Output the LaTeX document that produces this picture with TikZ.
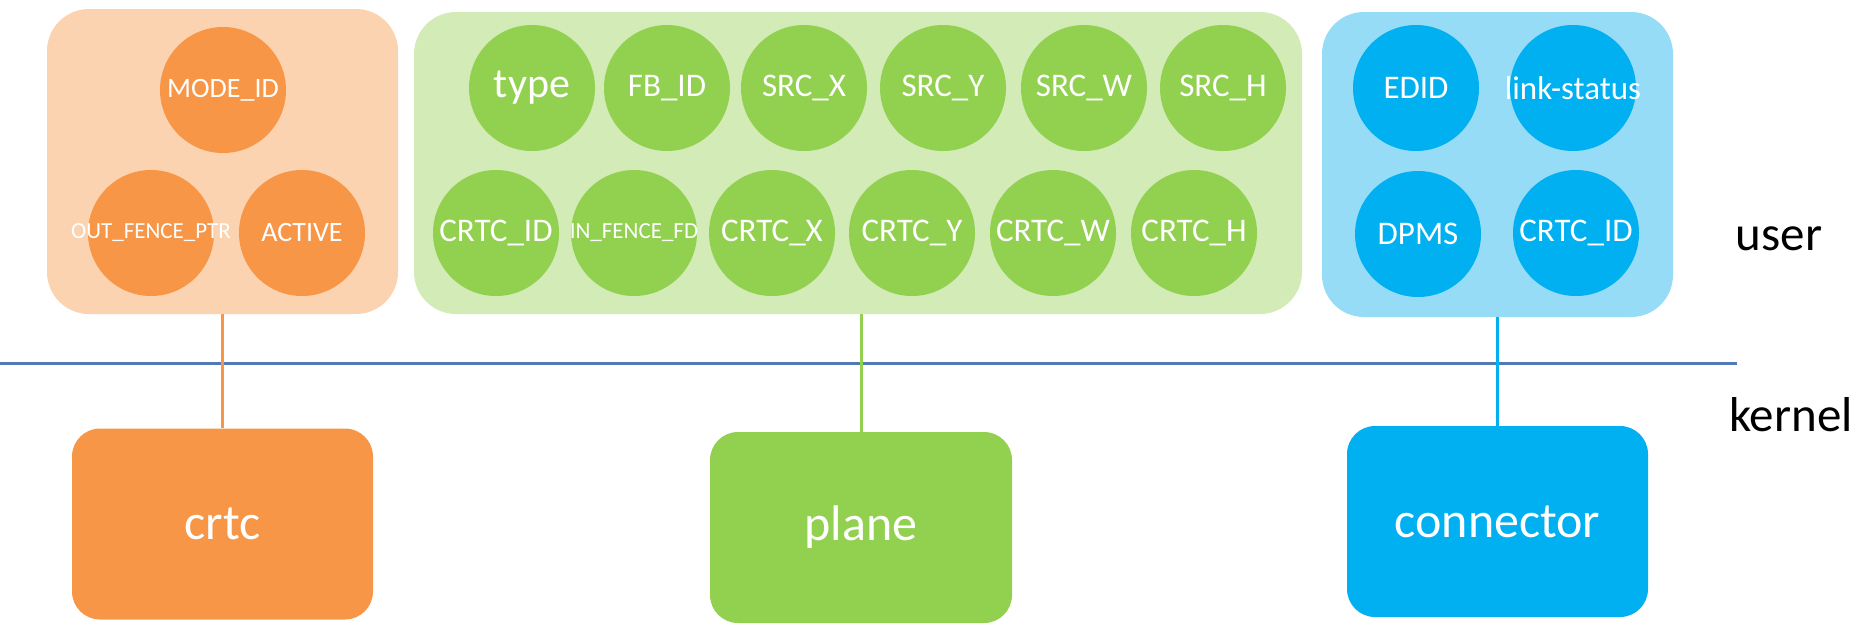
\documentclass[tikz,border=0pt]{standalone}
\usepackage{fontspec}
\setmainfont{Carlito}
\definecolor{orC}{HTML}{F79646}
\definecolor{orL}{HTML}{FBD3B0}
\definecolor{grC}{HTML}{92D050}
\definecolor{grL}{HTML}{D3EBB7}
\definecolor{blC}{HTML}{00B0F0}
\definecolor{blL}{HTML}{97DCF7}
\definecolor{sepline}{HTML}{5079B5}
\newcommand\ptxt[1]{\makebox[0pt]{#1}}
\newcommand\fsz[1]{\fontsize{#1}{#1}\selectfont}
\tikzset{
  group/.style={rounded corners=42pt, inner sep=0pt, draw=none},
  prop/.style={circle, minimum size=126pt, inner sep=0pt, text=white, font=\fsz{33}},
  kbox/.style={rounded corners=28pt, inner sep=0pt, minimum width=301pt, minimum height=191pt, text=white, font=\fsz{50}},
  link/.style={line width=3pt},
  side/.style={anchor=base, text=black, font=\fsz{49}}
}
\begin{document}
\begin{tikzpicture}[x=1pt,y=-1pt]
\useasboundingbox (0,0) rectangle (1876,641);
% containers
\node[group, fill=orL, minimum width=351pt, minimum height=305pt] (og) at (222.5,161.5) {};
\node[group, fill=grL, minimum width=888pt, minimum height=302pt] (gg) at (858,163) {};
\node[group, fill=blL, minimum width=351pt, minimum height=305pt] (bg) at (1497.5,164.5) {};
% orange properties
\node[prop, fill=orC, font=\fsz{28}] (modeid) at (223,90) {\ptxt{MODE\_ID}};
\node[prop, fill=orC, font=\fsz{23}] (outfence) at (151,233) {\ptxt{OUT\_FENCE\_PTR}};
\node[prop, fill=orC, font=\fsz{28}] (active) at (302,233) {\ptxt{ACTIVE}};
% green properties
\node[prop, fill=grC, font=\fsz{42}] (type) at (532,88) {\ptxt{type}};
\node[prop, fill=grC] (fbid) at (667,88) {\ptxt{FB\_ID}};
\node[prop, fill=grC] (srcx) at (804,88) {\ptxt{SRC\_X}};
\node[prop, fill=grC] (srcy) at (943,88) {\ptxt{SRC\_Y}};
\node[prop, fill=grC] (srcw) at (1084,88) {\ptxt{SRC\_W}};
\node[prop, fill=grC] (srch) at (1223,88) {\ptxt{SRC\_H}};
\node[prop, fill=grC] (pcrtcid) at (496,233) {\ptxt{CRTC\_ID}};
\node[prop, fill=grC, font=\fsz{23}] (infence) at (634,233) {\ptxt{IN\_FENCE\_FD}};
\node[prop, fill=grC] (crtcx) at (772,233) {\ptxt{CRTC\_X}};
\node[prop, fill=grC] (crtcy) at (912,233) {\ptxt{CRTC\_Y}};
\node[prop, fill=grC] (crtcw) at (1053,233) {\ptxt{CRTC\_W}};
\node[prop, fill=grC] (crtch) at (1194,233) {\ptxt{CRTC\_H}};
% blue properties
\node[prop, fill=blC] (edid) at (1416,88) {\ptxt{EDID}};
\node[prop, fill=blC] (linkst) at (1573,88) {\ptxt{link-status}};
\node[prop, fill=blC] (dpms) at (1418,234) {\ptxt{DPMS}};
\node[prop, fill=blC] (ccrtcid) at (1576,233) {\ptxt{CRTC\_ID}};
% kernel objects
\node[kbox, fill=orC] (crtc) at (222.5,524) {crtc};
\node[kbox, fill=grC, minimum width=302pt] (plane) at (861,527.5) {plane};
\node[kbox, fill=blC] (connector) at (1497.5,521.5) {connector};
% separator
\coordinate (sepL) at (0,363);
\coordinate (sepR) at (1737,363);
\draw[line width=3pt, sepline] (sepL) -- (sepR);
% links
\draw[link, orC] (og.south) -- (crtc.north);
\draw[link, grC] (gg.south -| plane.north) -- (plane.north);
\draw[link, blC] (bg.south) -- (connector.north);
% side labels
\node[side] (user) at (1779,250) {user};
\node[side] (kernel) at (1791,431) {kernel};
\end{tikzpicture}
\end{document}
